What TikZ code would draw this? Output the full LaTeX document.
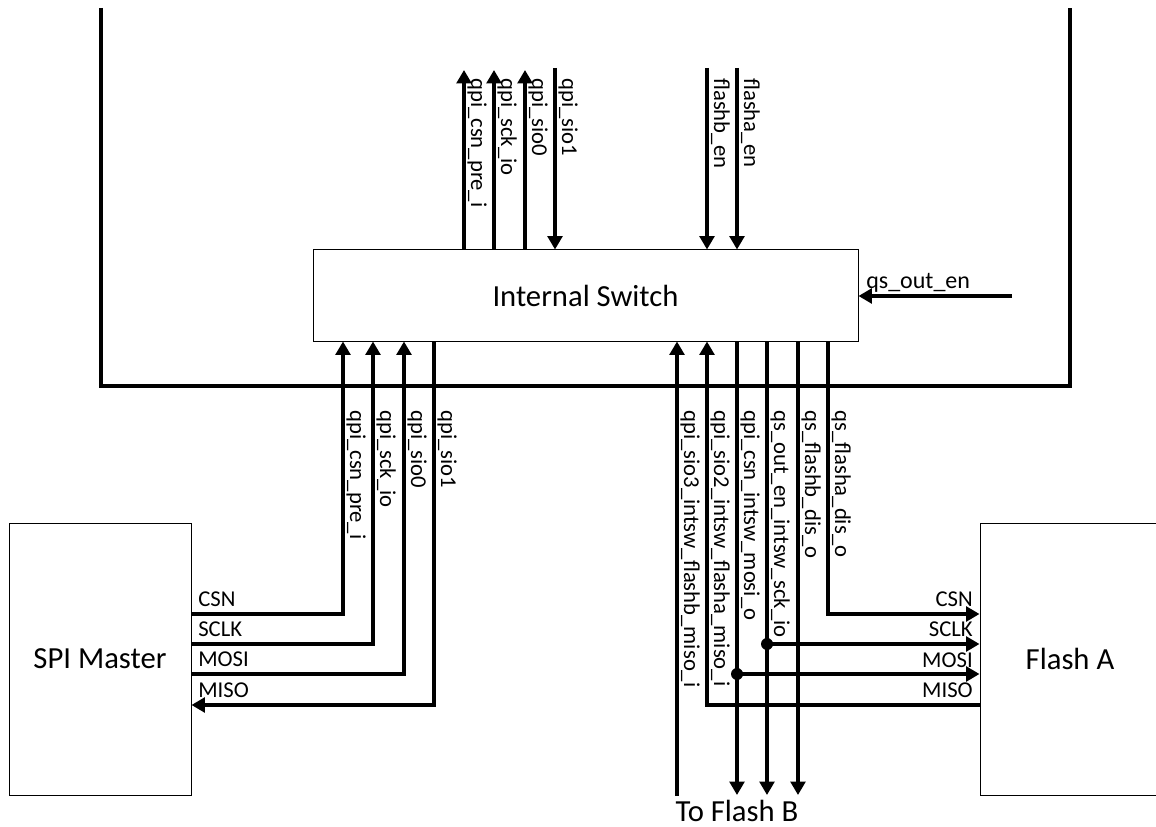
\documentclass[tikz,border=0pt]{standalone}
\usepackage{fontspec}
\setmainfont{Carlito}
\usetikzlibrary{arrows.meta}
\tikzset{
    busline/.style={line width=2.4pt},
    wire/.style={line width=2.4pt, -{Triangle[length=10pt,width=11pt]}},
    block/.style={draw, line width=0.75pt, inner sep=0pt},
    siglabel/.style={font=\fontsize{17}{17}\selectfont, rotate=-90, anchor=base west, inner sep=0pt},
    pinlabel/.style={font=\fontsize{17}{17}\selectfont, inner sep=0pt},
    title/.style={font=\fontsize{23}{23}\selectfont, inner sep=0pt},
}
\begin{document}
\begin{tikzpicture}[x=0.75pt, y=-0.75pt]
    \useasboundingbox (0,0) rectangle (1156,827);
    \node[block, title, minimum width=408.75pt, minimum height=68.25pt] (switch) at (585.5,295.5) {Internal Switch};
    \node[block, title, minimum width=136.5pt, minimum height=204pt] (master) at (100,659) {SPI Master};
    \node[block, title, minimum width=135pt, minimum height=204pt] (flasha) at (1070,659) {Flash A};
    \node[title] (flashb) at (737,811) {To Flash B};
    % outer frame
    \coordinate (frame-tl) at (101,8);
    \coordinate (frame-bl) at (101,386);
    \coordinate (frame-br) at (1070,386);
    \coordinate (frame-tr) at (1070,8);
    \draw[busline] (frame-tl) -- (frame-bl) -- (frame-br) -- (frame-tr);
    % upper side of the switch
    \foreach \xpos/\name in {464/qpi_csn_pre_i, 494/qpi_sck_io, 525/qpi_sio0} {
        \coordinate (top-\xpos) at (\xpos,70);
        \draw[wire] (top-\xpos |- switch.north) -- (top-\xpos);
        \node[siglabel] (label-\xpos) at (\xpos+7,78) {\detokenize\expandafter{\name}};
    }
    \foreach \xpos/\name in {555/qpi_sio1, 707/flashb_en, 737/flasha_en} {
        \coordinate (top-\xpos) at (\xpos,68);
        \draw[wire] (top-\xpos) -- (top-\xpos |- switch.north);
        \node[siglabel] (label-\xpos) at (\xpos+7,78) {\detokenize\expandafter{\name}};
    }
    \coordinate (outen) at (1012,296);
    \draw[wire] (outen) -- (outen -| switch.east);
    \node[pinlabel, anchor=base west, font=\fontsize{18}{18}\selectfont] (outen-label) at (866,289) {\detokenize{qs_out_en}};
    % lower left
    \foreach \xpos/\ypos/\name/\pin in {343/614/qpi_csn_pre_i/CSN, 373/644/qpi_sck_io/SCLK, 404/674/qpi_sio0/MOSI} {
        \coordinate (bend-\pin) at (\xpos,\ypos);
        \draw[wire] (bend-\pin -| master.east) -- (bend-\pin) -- (bend-\pin |- switch.south);
        \node[siglabel] (label-\xpos) at (\xpos+7,410) {\detokenize\expandafter{\name}};
        \node[pinlabel, anchor=base west] (master-\pin) at (198,\ypos-8) {\pin};
    }
    \coordinate (bend-MISO) at (434,705);
    \draw[wire] (bend-MISO |- switch.south) -- (bend-MISO) -- (bend-MISO -| master.east);
    \node[siglabel] (label-434) at (441,410) {\detokenize{qpi_sio1}};
    \node[pinlabel, anchor=base west] (master-MISO) at (198,697) {MISO};
    % lower right
    \coordinate (in-3) at (677,796);
    \draw[wire] (in-3) -- (in-3 |- switch.south);
    \node[siglabel] (label-677) at (684,410) {\detokenize{qpi_sio3_intsw_flashb_miso_i}};
    \coordinate (in-2) at (707,705);
    \draw[wire] (in-2 -| flasha.west) -- (in-2) -- (in-2 |- switch.south);
    \node[siglabel] (label-707) at (714,410) {\detokenize{qpi_sio2_intsw_flasha_miso_i}};
    \foreach \xpos/\name in {737/qpi_csn_intsw_mosi_o, 767/qs_out_en_intsw_sck_io, 798/qs_flashb_dis_o} {
        \coordinate (out-\xpos) at (\xpos,795);
        \draw[wire] (out-\xpos |- switch.south) -- (out-\xpos);
        \node[siglabel] (label-\xpos) at (\xpos+7,410) {\detokenize\expandafter{\name}};
    }
    \coordinate (csn-bend) at (828,614);
    \draw[wire] (csn-bend |- switch.south) -- (csn-bend) -- (csn-bend -| flasha.west);
    \node[siglabel] (label-828) at (835,410) {\detokenize{qs_flasha_dis_o}};
    \coordinate (sclk-dot) at (767,644);
    \coordinate (mosi-dot) at (737,674);
    \draw[wire] (sclk-dot) -- (sclk-dot -| flasha.west);
    \draw[wire] (mosi-dot) -- (mosi-dot -| flasha.west);
    \fill (sclk-dot) circle (6);
    \fill (mosi-dot) circle (6);
    \foreach \ypos/\pin in {606/CSN, 636/SCLK, 667/MOSI, 697/MISO}
        \node[pinlabel, anchor=base east] (flasha-\pin) at (973,\ypos) {\pin};
\end{tikzpicture}
\end{document}
